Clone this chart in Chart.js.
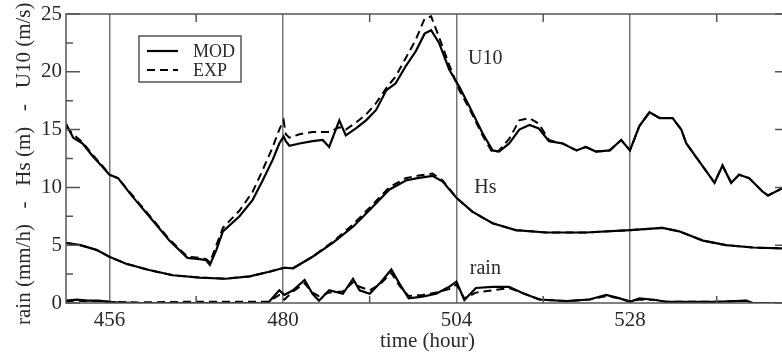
<!DOCTYPE html>
<html>
<head>
<meta charset="utf-8">
<script src="https://cdn.jsdelivr.net/npm/chart.js@4/dist/chart.umd.min.js"></script>
<style>
  html, body { margin: 0; padding: 0; background: #fff; overflow: hidden; }
</style>
</head>
<body>
<canvas id="chart" width="800" height="354"></canvas>
<script>
// hours (x) and values
const u10Hours = [450, 451, 452.3, 453.7, 455, 456, 457.2, 459.2, 461.5, 464.3, 466.8, 468.5, 469.4, 469.9, 470.8, 471.7, 474, 475.8, 477.2, 478.6, 479.5, 480.1, 480.4, 480.9, 482.3, 484.1, 485.5, 486.4, 487.8, 488.7, 490.1, 491.5, 492.9, 494.3, 495.6, 497, 498.4, 499.6, 500.5, 501.6, 503, 504.4, 505.8, 507.6, 509, 509.9, 511.3, 512.7, 514.1, 515.4, 516.8, 518.7, 520.6, 521.9, 523.3, 525.2, 526.8, 528, 529.3, 530.7, 532.1, 533.9, 535.1, 535.8, 538.1, 539.7, 540.8, 542, 543.1, 544.5, 546.4, 547.1, 549, 550];
const u10Mod = [15.5, 14.3, 13.8, 12.7, 11.8, 11.1, 10.8, 9.2, 7.5, 5.4, 3.9, 3.8, 3.7, 3.3, 4.6, 6.2, 7.5, 8.9, 10.6, 12.4, 13.8, 14.4, 14.0, 13.6, 13.8, 14.0, 14.1, 13.5, 15.8, 14.5, 15.1, 15.8, 16.7, 18.4, 19.0, 20.5, 21.8, 23.3, 23.6, 22.5, 20.2, 18.7, 17.0, 14.7, 13.2, 13.1, 13.8, 15.0, 15.4, 15.1, 14.0, 13.8, 13.2, 13.5, 13.1, 13.2, 14.1, 13.2, 15.3, 16.5, 16.0, 16.0, 15.0, 13.8, 11.8, 10.4, 11.9, 10.4, 11.1, 10.8, 9.6, 9.3, 9.9, 10.0];
const u10Exp = [15.2, 14.6, 13.9, 12.8, 11.9, 11.1, 10.8, 9.3, 7.6, 5.5, 4.0, 3.9, 3.8, 3.5, 5.0, 6.5, 8.0, 9.6, 11.5, 13.5, 15.0, 15.8, 14.6, 14.3, 14.6, 14.8, 14.8, 14.8, 15.2, 15.0, 15.6, 16.3, 17.3, 18.6, 19.6, 21.2, 22.8, 24.6, 24.8, 23.0, 20.6, 18.4, 16.8, 14.5, 13.0, 13.2, 14.2, 15.8, 16.0, 15.5, 14.1, 13.8, 13.2, 13.5, 13.1, 13.2, 14.1, 13.2, 15.3, 16.5, 16.0, 16.0, 15.0, 13.8, 11.8, 10.4, 11.9, 10.4, 11.1, 10.8, 9.6, 9.3, 9.9, 10.0];

const hsHours = [450, 452, 454.2, 456, 458.3, 461.5, 464.8, 468.5, 472.1, 475.4, 478.1, 480.2, 481.4, 484.1, 486.9, 489.7, 492.4, 494.7, 497, 498.6, 500.7, 502.1, 504, 506.2, 509, 512.2, 516.4, 521.9, 528, 532.5, 534.8, 538.1, 541.3, 545, 550];
const hsMod = [5.2, 5.0, 4.6, 4.0, 3.4, 2.85, 2.4, 2.2, 2.1, 2.3, 2.7, 3.05, 3.0, 4.0, 5.2, 6.6, 8.3, 9.8, 10.6, 10.8, 11.0, 10.5, 9.1, 7.9, 6.9, 6.3, 6.1, 6.1, 6.3, 6.5, 6.2, 5.4, 5.0, 4.8, 4.7];
const hsExp = [5.2, 5.0, 4.6, 4.0, 3.4, 2.85, 2.4, 2.2, 2.1, 2.3, 2.7, 3.05, 3.0, 4.0, 5.3, 6.8, 8.5, 10.0, 10.8, 11.0, 11.2, 10.6, 9.1, 7.9, 6.9, 6.3, 6.1, 6.1, 6.3, 6.5, 6.2, 5.4, 5.0, 4.8, 4.7];

const rainHours = [450, 451.5, 453, 454.5, 456, 457, 460, 466, 472, 477, 478, 479.5, 480.2, 481.4, 483, 484.1, 485, 486.4, 488.3, 489.7, 490.6, 492, 493.4, 495, 496.1, 497.4, 499.3, 501.2, 503, 504, 505.1, 506.7, 509, 511.3, 513.2, 515.5, 519.2, 522.4, 524.7, 526.6, 528, 529.3, 531.6, 533, 540, 544.1, 545, 550];
const rainMod = [0.2, 0.3, 0.2, 0.2, 0.1, 0.05, 0, 0, 0, 0, 0.05, 1.1, 0.7, 1.1, 2.0, 0.8, 0.2, 1.1, 0.8, 2.1, 1.1, 0.8, 1.7, 2.9, 1.7, 0.4, 0.55, 0.8, 1.4, 1.85, 0.26, 1.3, 1.4, 1.4, 0.85, 0.3, 0.17, 0.3, 0.7, 0.4, 0.1, 0.4, 0.26, 0.1, 0.1, 0.2, 0, 0];
const rainExp = [0.15, 0.2, 0.15, 0.15, 0.1, 0.08, 0.05, 0.1, 0.1, 0.1, 0.1, 0.7, 0.3, 1.0, 1.7, 0.9, 0.6, 0.9, 1.0, 1.8, 1.4, 1.1, 1.6, 2.6, 1.5, 0.6, 0.7, 0.9, 1.2, 1.6, 0.4, 0.9, 1.1, 1.3, 0.85, 0.3, 0.17, 0.3, 0.6, 0.4, 0.15, 0.3, 0.25, 0.1, 0.1, 0.2, 0, 0];

const xTickValues = [456, 468, 480, 492, 504, 516, 528, 540];
const legendNames = ['MOD', 'EXP'];
const curveLabels = ['U10', 'Hs', 'rain'];
const curveLabelHours = [508, 508, 508];
const curveLabelValues = [21.1, 10.0, 2.95];

const serif = '"Liberation Serif", "DejaVu Serif", serif';
const frameColor = '#555';
const textColor = '#2a2a2a';

function pts(xs, ys) {
    return xs.map((x, i) => ({ x: x, y: ys[i] }));
}

function line(label, data, dashed) {
    return {
        label: label,
        data: data,
        borderColor: '#000',
        borderWidth: dashed ? 2 : 2.2,
        borderDash: dashed ? [8, 5] : [],
        pointRadius: 0,
        tension: 0,
        fill: false
    };
}

// frame with inward ticks, legend box and curve labels
const decorPlugin = {
    id: 'decor',
    afterDraw(chart) {
        const ctx = chart.ctx;
        const area = chart.chartArea;
        const xs = chart.scales.x;
        const ys = chart.scales.y;
        ctx.save();
        ctx.strokeStyle = frameColor;
        ctx.lineWidth = 1.5;
        ctx.strokeRect(area.left, area.top, area.right - area.left, area.bottom - area.top);

        // y ticks: major every 5, minor every 2.5
        for (let v = 0; v <= 25; v += 2.5) {
            const py = ys.getPixelForValue(v);
            const len = (v % 5 === 0) ? 14 : 7;
            ctx.beginPath();
            ctx.moveTo(area.left, py); ctx.lineTo(area.left + len, py);
            ctx.moveTo(area.right, py); ctx.lineTo(area.right - len, py);
            ctx.stroke();
        }
        // x minor ticks
        xTickValues.forEach(v => {
            if (v % 24 === 0) return;
            const px = xs.getPixelForValue(v);
            ctx.beginPath();
            ctx.moveTo(px, area.top); ctx.lineTo(px, area.top + 8);
            ctx.moveTo(px, area.bottom); ctx.lineTo(px, area.bottom - 7);
            ctx.stroke();
        });

        // legend
        const lx = area.left + 73, ly = area.top + 22;
        ctx.fillStyle = '#fff';
        ctx.fillRect(lx, ly, 102, 46);
        ctx.strokeStyle = frameColor;
        ctx.lineWidth = 1.5;
        ctx.strokeRect(lx, ly, 102, 46);
        ctx.font = '18px ' + serif;
        ctx.textBaseline = 'middle';
        ctx.textAlign = 'left';
        legendNames.forEach((name, i) => {
            const ds = chart.data.datasets[i];
            const yy = ly + 15 + i * 19;
            ctx.strokeStyle = ds.borderColor;
            ctx.lineWidth = ds.borderWidth;
            ctx.setLineDash(ds.borderDash);
            ctx.beginPath();
            ctx.moveTo(lx + 8, yy); ctx.lineTo(lx + 39, yy);
            ctx.stroke();
            ctx.setLineDash([]);
            ctx.fillStyle = textColor;
            ctx.fillText(name, lx + 54, yy + 1);
        });

        // curve labels
        ctx.font = '20px ' + serif;
        ctx.textAlign = 'center';
        curveLabels.forEach((t, i) => {
            ctx.fillText(t, xs.getPixelForValue(curveLabelHours[i]), ys.getPixelForValue(curveLabelValues[i]));
        });
        ctx.restore();
    }
};

new Chart(document.getElementById('chart'), {
    type: 'line',
    data: {
        datasets: [
            line('MOD', pts(u10Hours, u10Mod), false),
            line('EXP', pts(u10Hours, u10Exp), true),
            line('Hs MOD', pts(hsHours, hsMod), false),
            line('Hs EXP', pts(hsHours, hsExp), true),
            line('rain MOD', pts(rainHours, rainMod), false),
            line('rain EXP', pts(rainHours, rainExp), true)
        ]
    },
    options: {
        responsive: false,
        animation: false,
        layout: { padding: { top: 14, right: 11, left: 0, bottom: 0 } },
        plugins: {
            legend: { display: false },
            tooltip: { enabled: false }
        },
        scales: {
            x: {
                type: 'linear',
                min: 450,
                max: 550,
                afterBuildTicks: (scale) => {
                    scale.ticks = xTickValues.map(v => ({ value: v }));
                },
                afterFit: (scale) => {
                    scale.height = 51;
                    scale.paddingLeft = 0;
                    scale.paddingRight = 0;
                },
                border: { display: false },
                grid: {
                    drawTicks: false,
                    color: (c) => (c.tick && c.tick.value % 24 === 0) ? '#777' : 'rgba(0,0,0,0)',
                    lineWidth: 1.5
                },
                ticks: {
                    autoSkip: false,
                    maxRotation: 0,
                    padding: 5,
                    color: textColor,
                    font: { family: serif, size: 21 },
                    callback: (v) => (v % 24 === 0) ? String(v) : ''
                },
                title: {
                    display: true,
                    text: 'time (hour)',
                    color: textColor,
                    font: { family: serif, size: 21 },
                    padding: { top: 0, bottom: 0 }
                }
            },
            y: {
                min: 0,
                max: 25,
                afterFit: (scale) => {
                    scale.width = 66;
                    scale.paddingTop = 0;
                    scale.paddingBottom = 0;
                },
                border: { display: false },
                grid: { display: false, drawTicks: false },
                ticks: {
                    stepSize: 5,
                    padding: 4,
                    color: textColor,
                    font: { family: serif, size: 21 }
                },
                title: {
                    display: true,
                    text: 'rain (mm/h)   -   Hs (m)   -   U10 (m/s)  ',
                    color: textColor,
                    font: { family: serif, size: 21 },
                    padding: { top: 12, bottom: 0 }
                }
            }
        }
    },
    plugins: [decorPlugin]
});
</script>
</body>
</html>
